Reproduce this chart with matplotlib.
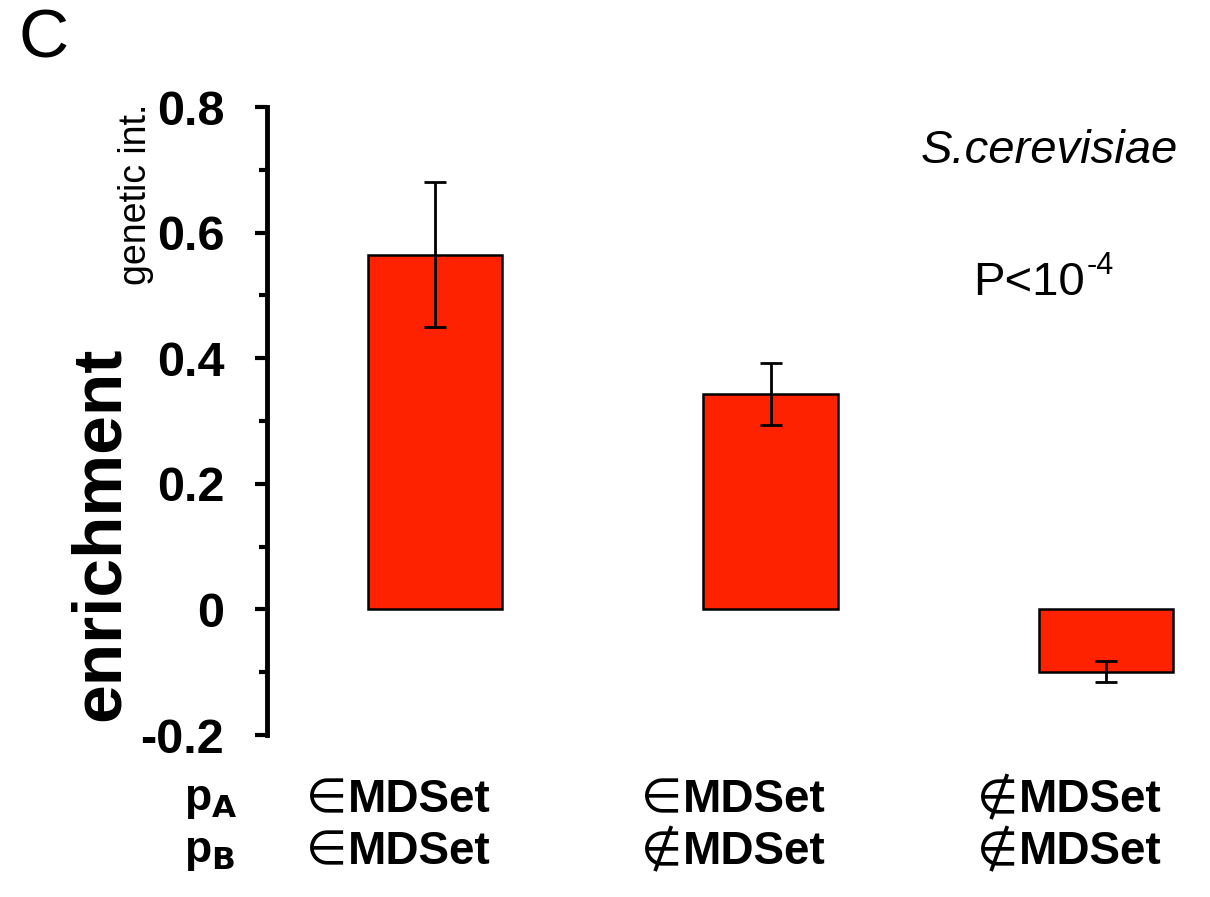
import matplotlib.pyplot as plt
from matplotlib.ticker import MultipleLocator
from matplotlib.transforms import blended_transform_factory

plt.rcParams['font.family'] = ['Liberation Sans', 'DejaVu Sans']

# data
pa_member = [True, True, False]
pb_member = [True, False, False]
enrichment = [0.565, 0.343, -0.099]
errors = [0.116, 0.049, 0.017]
yticks = [-0.2, 0, 0.2, 0.4, 0.6, 0.8]
ytick_labels = ['-0.2', '0', '0.2', '0.4', '0.6', '0.8']

fig = plt.figure(figsize=(12.1, 8.97), dpi=100)
ax = fig.add_axes([0.221, 0.1806, 0.779, 0.7001])

x = list(range(len(enrichment)))
ax.bar(x, enrichment, width=0.4, color='#ff2200', edgecolor='black', linewidth=1.8, zorder=2)
ax.errorbar(x, enrichment, yerr=errors, fmt='none', ecolor='black', elinewidth=2,
            capsize=8, capthick=2, zorder=3)

ax.set_xlim(-0.5, 2.31)
ax.set_ylim(-0.2, 0.8)
ax.set_yticks(yticks)
ax.set_yticklabels(ytick_labels, fontsize=35, fontweight='bold')
ax.yaxis.set_minor_locator(MultipleLocator(0.1))
ax.tick_params(axis='y', which='major', length=9, width=3, direction='out', pad=22)
ax.tick_params(axis='y', which='minor', length=6, width=3, direction='out')
ax.set_xticks([])
for s in ['top', 'right', 'bottom']:
    ax.spines[s].set_visible(False)
ax.spines['left'].set_linewidth(3.5)

# y label: enrichment with subscript
fig.text(0.083, 0.405, 'enrichment', rotation=90, ha='center', va='center',
         fontsize=50, fontweight='bold')
fig.text(0.112, 0.783, 'genetic int.', rotation=90, ha='center', va='center', fontsize=27)

# panel letter and annotations
fig.text(0.015, 0.992, 'C', fontsize=50, ha='left', va='top')
fig.text(0.867, 0.832, 'S.cerevisiae', fontsize=34, style='italic', ha='center', va='center')
fig.text(0.897, 0.685, 'P<10', fontsize=34, ha='right', va='center')
fig.text(0.898, 0.704, '-4', fontsize=22, ha='left', va='center')

# membership labels under bars
fig.text(0.152, 0.108, r'p$_{\mathbf{A}}$', fontsize=32, fontweight='bold', ha='left', va='center')
fig.text(0.152, 0.050, r'p$_{\mathbf{B}}$', fontsize=32, fontweight='bold', ha='left', va='center')
trans = blended_transform_factory(ax.transData, fig.transFigure)
rows = [(pa_member, 0.108), (pb_member, 0.050)]
for members, yy in rows:
    for xi, m in zip(x, members):
        sym = '\u2208' if m else '\u2209'
        ax.text(xi - 0.385, yy, sym, transform=trans,
                fontsize=34, family='DejaVu Sans', ha='left', va='center')
        ax.text(xi - 0.26, yy, 'MDSet', transform=trans,
                fontsize=33, fontweight='bold', ha='left', va='center')

fig.savefig('out.png', dpi=100)
